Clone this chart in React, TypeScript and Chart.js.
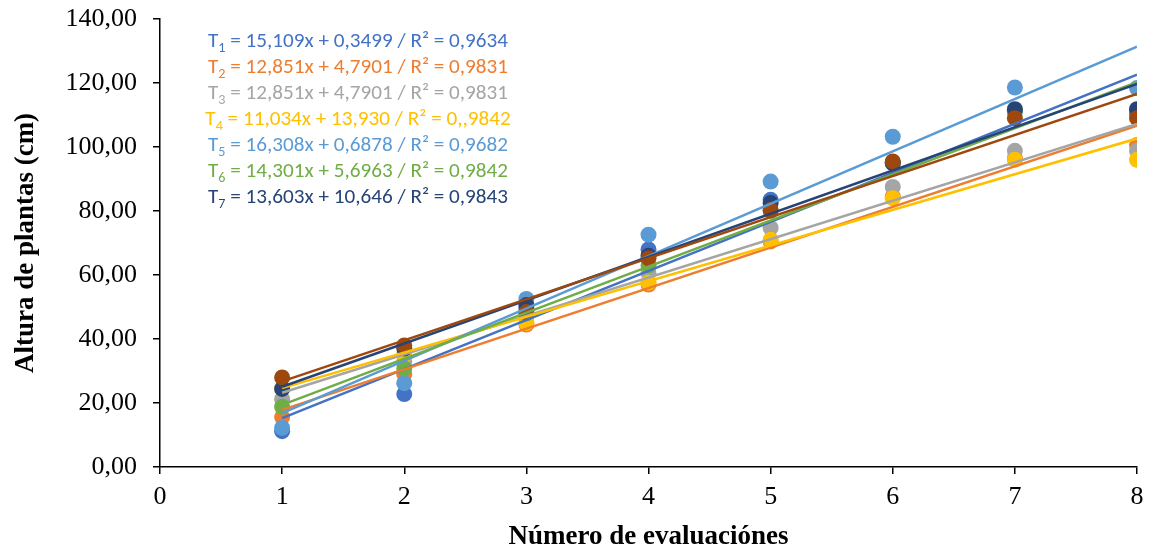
import React, { useEffect, useRef } from 'react';
import { Chart, registerables } from 'chart.js';

Chart.register(...registerables);

// Evaluation number (x) for every series
const evaluations = [1, 2, 3, 4, 5, 6, 7, 8];

// Plant height (cm) per treatment
const t1 = [11.2, 22.8, 49.5, 68.0, 83.5, 95.0, 111.0, 110.5];
const t2 = [15.6, 29.0, 44.5, 57.0, 70.5, 84.5, 96.5, 100.6];
const t3 = [21.2, 33.0, 47.0, 60.6, 74.7, 87.5, 98.8, 98.8];
const t4 = [24.5, 35.0, 45.0, 57.6, 71.0, 84.0, 96.0, 96.0];
const t5 = [12.2, 26.2, 52.5, 72.6, 89.2, 103.2, 118.6, 118.4];
const t6 = [18.8, 30.8, 48.0, 63.0, 80.0, 95.0, 111.5, 111.5];
const t7 = [24.4, 37.0, 50.6, 66.0, 82.5, 95.0, 111.8, 111.8];
const t8 = [28.0, 38.0, 48.4, 65.2, 80.3, 95.5, 109.0, 109.0];

const seriesValues = [t1, t2, t3, t4, t5, t6, t7, t8];
const seriesColors = ['#4472C4', '#ED7D31', '#A5A5A5', '#FFC000', '#5B9BD5', '#70AD47', '#264478', '#9E480E'];

// Equation labels (as printed on the chart)
const eqSubs = ['1', '2', '3', '4', '5', '6', '7'];
const eqBodies = [
  ' = 15,109x + 0,3499 / R² = 0,9634',
  ' = 12,851x + 4,7901 / R² = 0,9831',
  ' = 12,851x + 4,7901 / R² = 0,9831',
  ' = 11,034x + 13,930 / R² = 0,,9842',
  ' = 16,308x + 0,6878 / R² = 0,9682',
  ' = 14,301x + 5,6963 / R² = 0,9842',
  ' = 13,603x + 10,646 / R² = 0,9843',
];

const yTicks = [0, 20, 40, 60, 80, 100, 120, 140];
const xTicks = [0, 1, 2, 3, 4, 5, 6, 7, 8];

function linearFit(xs: number[], ys: number[]) {
  const n = xs.length;
  const mx = xs.reduce((a, b) => a + b, 0) / n;
  const my = ys.reduce((a, b) => a + b, 0) / n;
  let sxy = 0;
  let sxx = 0;
  for (let i = 0; i < n; i++) {
    sxy += (xs[i] - mx) * (ys[i] - my);
    sxx += (xs[i] - mx) * (xs[i] - mx);
  }
  const m = sxy / sxx;
  return { m, b: my - m * mx };
}

const trendLabelPlugin = {
  id: 'trendLabels',
  afterDraw(chart: any) {
    const ctx = chart.ctx as CanvasRenderingContext2D;
    const mainFont = '21px Carlito, Lato, "Open Sans", sans-serif';
    const subFont = '14px Carlito, Lato, "Open Sans", sans-serif';
    const measure = (i: number) => {
      ctx.font = mainFont;
      const a = ctx.measureText('T').width;
      const c = ctx.measureText(eqBodies[i]).width;
      ctx.font = subFont;
      const b = ctx.measureText(eqSubs[i]).width;
      return { a, b, c, total: a + b + c };
    };
    const sx = 300 / measure(0).total;
    ctx.save();
    ctx.textBaseline = 'middle';
    ctx.textAlign = 'left';
    for (let i = 0; i < eqBodies.length; i++) {
      const m = measure(i);
      const w = m.total * sx;
      const cx = 358;
      const y = 42 + i * 26;
      ctx.save();
      ctx.translate(cx - w / 2, y);
      ctx.scale(sx, 1);
      ctx.fillStyle = seriesColors[i];
      ctx.font = mainFont;
      ctx.fillText('T', 0, 0);
      ctx.font = subFont;
      ctx.fillText(eqSubs[i], m.a, 6);
      ctx.font = mainFont;
      ctx.fillText(eqBodies[i], m.a + m.b, 0);
      ctx.restore();
    }
    ctx.restore();
  },
};

const serif = '"Liberation Serif", "Times New Roman", serif';

export default function App() {
  const canvasRef = useRef<HTMLCanvasElement | null>(null);

  useEffect(() => {
    document.body.style.margin = '0';
    const canvas = canvasRef.current;
    if (!canvas) return;

    const pointSets = seriesValues.map((vals, i) => ({
      type: 'scatter' as const,
      label: 'S' + (i + 1),
      data: evaluations.map((x, j) => ({ x, y: vals[j] })),
      backgroundColor: seriesColors[i],
      borderColor: seriesColors[i],
      borderWidth: 0,
      pointRadius: 8,
      pointHoverRadius: 8,
      order: 40 - i,
    }));

    const trendSets = seriesValues.map((vals, i) => {
      const { m, b } = linearFit(evaluations, vals);
      const x0 = evaluations[0];
      const x1 = evaluations[evaluations.length - 1];
      return {
        type: 'scatter' as const,
        label: 'trend' + (i + 1),
        data: [
          { x: x0, y: m * x0 + b },
          { x: x1, y: m * x1 + b },
        ],
        showLine: true,
        borderColor: seriesColors[i],
        backgroundColor: seriesColors[i],
        borderWidth: 2.5,
        pointRadius: 0,
        pointHoverRadius: 0,
        order: 20 - i,
      };
    });

    const chart = new Chart(canvas, {
      type: 'scatter',
      data: { datasets: [...pointSets, ...trendSets] as any },
      plugins: [trendLabelPlugin],
      options: {
        responsive: false,
        animation: false,
        events: [],
        layout: { padding: { top: 19, right: 12, left: 0, bottom: 0 } },
        plugins: {
          legend: { display: false },
          tooltip: { enabled: false },
        },
        scales: {
          x: {
            type: 'linear',
            min: 0,
            max: 8,
            afterBuildTicks: (s: any) => {
              s.ticks = xTicks.map((v) => ({ value: v }));
            },
            afterFit: (s: any) => {
              s.height = 86;
              s.paddingLeft = 0;
              s.paddingRight = 0;
            },
            ticks: {
              color: '#000',
              font: { family: serif, size: 26 },
              padding: 8,
              callback: (v: any) => String(v),
            },
            grid: { drawOnChartArea: false, drawTicks: true, tickLength: 7, color: '#000', lineWidth: 1.5 },
            border: { display: true, color: '#000', width: 1.5 },
            title: {
              display: true,
              text: 'Número de evaluaciónes',
              color: '#000',
              font: { family: serif, size: 27, weight: 'bold' },
              padding: { top: 0, bottom: 0 },
            },
          },
          y: {
            type: 'linear',
            min: 0,
            max: 140,
            afterBuildTicks: (s: any) => {
              s.ticks = yTicks.map((v) => ({ value: v }));
            },
            afterFit: (s: any) => {
              s.width = 160;
              s.paddingTop = 0;
              s.paddingBottom = 0;
            },
            ticks: {
              color: '#000',
              font: { family: serif, size: 26 },
              padding: 16,
              callback: (v: any) => Number(v).toFixed(2).replace('.', ','),
            },
            grid: { drawOnChartArea: false, drawTicks: true, tickLength: 7, color: '#000', lineWidth: 1.5 },
            border: { display: true, color: '#000', width: 1.5 },
            title: {
              display: true,
              text: 'Altura de plantas (cm)',
              color: '#000',
              font: { family: serif, size: 27, weight: 'bold' },
              padding: { top: 10, bottom: 0 },
            },
          },
        },
      } as any,
    });

    return () => {
      chart.destroy();
    };
  }, []);

  return (
    <div style={{ width: 1149, height: 553, position: 'relative', background: '#fff' }}>
      <canvas ref={canvasRef} width={1149} height={553} style={{ display: 'block' }} />
    </div>
  );
}
